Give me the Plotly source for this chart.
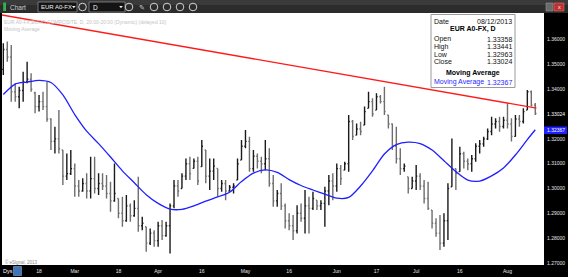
import plotly.graph_objects as go
import pandas as pd

# ---------------- data ----------------
dates = [d.strftime("%Y-%m-%d") for d in pd.bdate_range("2013-02-05", "2013-08-12")]

opens = [1.3480, 1.3560, 1.3530, 1.3390, 1.3370, 1.3395, 1.3430, 1.3440, 1.3385, 1.3330,
         1.3350, 1.3330, 1.3280, 1.3190, 1.3200, 1.3155, 1.3050, 1.3060, 1.3080, 1.3010,
         1.2990, 1.3020, 1.2990, 1.3040, 1.3000, 1.3020, 1.3010, 1.2980, 1.2950, 1.2960,
         1.2900, 1.2870, 1.2930, 1.2890, 1.2920, 1.2850, 1.2846, 1.2780, 1.2820, 1.2790,
         1.2850, 1.2810, 1.2850, 1.2930, 1.3010, 1.3000, 1.3050, 1.3100, 1.3081, 1.3110,
         1.3088, 1.3155, 1.3050, 1.3070, 1.3081, 1.3000, 1.3020, 1.2990, 1.3005, 1.3034,
         1.3115, 1.3170, 1.3190, 1.3080, 1.3130, 1.3110, 1.3100, 1.3120, 1.3020, 1.2950,
         1.2980, 1.2930, 1.2870, 1.2850, 1.2830, 1.2900, 1.2880, 1.2930, 1.2920, 1.2953,
         1.2930, 1.2940, 1.2990, 1.3030, 1.3010, 1.3080, 1.3074, 1.3100, 1.3270, 1.3215,
         1.3240, 1.3256, 1.3323, 1.3350, 1.3316, 1.3370, 1.3350, 1.3296, 1.3260, 1.3170,
         1.3120, 1.3080, 1.3047, 1.3000, 1.3030, 1.3050, 1.3010, 1.2960, 1.2913, 1.2860,
         1.2820, 1.2780, 1.2870, 1.3007, 1.3080, 1.3068, 1.3140, 1.3110, 1.3100, 1.3120,
         1.3170, 1.3180, 1.3200, 1.3230, 1.3260, 1.3270, 1.3250, 1.3275, 1.3260, 1.3210,
         1.3280, 1.3270, 1.3316, 1.3390, 1.33358]
highs = [1.3585, 1.3592, 1.3578, 1.3424, 1.3410, 1.3471, 1.3511, 1.3464, 1.3390, 1.3377,
         1.3390, 1.3430, 1.3283, 1.3249, 1.3316, 1.3155, 1.3141, 1.3155, 1.3101, 1.3034,
         1.3041, 1.3061, 1.3128, 1.3128, 1.3061, 1.3061, 1.3054, 1.3027, 1.3101, 1.2960,
         1.2967, 1.2974, 1.2940, 1.2953, 1.3047, 1.2886, 1.2846, 1.2839, 1.2832, 1.2866,
         1.2873, 1.2866, 1.2940, 1.3034, 1.3034, 1.3061, 1.3121, 1.3128, 1.3121, 1.3128,
         1.3195, 1.3155, 1.3121, 1.3121, 1.3081, 1.3034, 1.3034, 1.3014, 1.3021, 1.3121,
         1.3195, 1.3236, 1.3209, 1.3155, 1.3141, 1.3128, 1.3195, 1.3162, 1.3054, 1.2994,
         1.3021, 1.2940, 1.2900, 1.2893, 1.2933, 1.2940, 1.2994, 1.2967, 1.2987, 1.2953,
         1.2953, 1.3007, 1.3054, 1.3061, 1.3101, 1.3095, 1.3108, 1.3296, 1.3276, 1.3262,
         1.3269, 1.3330, 1.3390, 1.3364, 1.3384, 1.3377, 1.3410, 1.3296, 1.3262, 1.3249,
         1.3162, 1.3101, 1.3047, 1.3047, 1.3095, 1.3061, 1.3034, 1.3027, 1.2913, 1.2880,
         1.2893, 1.2900, 1.3021, 1.3202, 1.3081, 1.3168, 1.3148, 1.3121, 1.3135, 1.3182,
         1.3195, 1.3209, 1.3242, 1.3289, 1.3283, 1.3289, 1.3289, 1.3343, 1.3283, 1.3296,
         1.3296, 1.3323, 1.3397, 1.3395, 1.33441]
lows = [1.3457, 1.3511, 1.3350, 1.3350, 1.3323, 1.3350, 1.3424, 1.3390, 1.3303, 1.3310,
        1.3316, 1.3269, 1.3155, 1.3141, 1.3141, 1.3014, 1.3034, 1.3054, 1.2967, 1.2967,
        1.2987, 1.2960, 1.2960, 1.2980, 1.2974, 1.2994, 1.2960, 1.2906, 1.2947, 1.2880,
        1.2846, 1.2866, 1.2866, 1.2886, 1.2826, 1.2832, 1.2745, 1.2772, 1.2765, 1.2765,
        1.2792, 1.2806, 1.2738, 1.2920, 1.2967, 1.3000, 1.3034, 1.3034, 1.3081, 1.3014,
        1.3088, 1.3021, 1.2994, 1.3034, 1.2967, 1.2987, 1.2953, 1.2987, 1.2980, 1.3034,
        1.3115, 1.3162, 1.3068, 1.3068, 1.3081, 1.3061, 1.3074, 1.3007, 1.2926, 1.2926,
        1.2913, 1.2839, 1.2832, 1.2792, 1.2819, 1.2866, 1.2819, 1.2819, 1.2913, 1.2913,
        1.2913, 1.2846, 1.2933, 1.2953, 1.2987, 1.3014, 1.3074, 1.3068, 1.3195, 1.3215,
        1.3215, 1.3256, 1.3323, 1.3289, 1.3316, 1.3343, 1.3296, 1.3242, 1.3155, 1.3101,
        1.3054, 1.3068, 1.2980, 1.3000, 1.2994, 1.2994, 1.2940, 1.2913, 1.2839, 1.2806,
        1.2752, 1.2765, 1.2792, 1.3007, 1.2994, 1.3068, 1.3081, 1.3074, 1.3068, 1.3108,
        1.3141, 1.3168, 1.3195, 1.3215, 1.3242, 1.3229, 1.3242, 1.3242, 1.3189, 1.3209,
        1.3249, 1.3262, 1.3316, 1.3330, 1.32963]
closes = [1.3560, 1.3530, 1.3390, 1.3370, 1.3395, 1.3430, 1.3440, 1.3400, 1.3330, 1.3350,
          1.3330, 1.3280, 1.3190, 1.3200, 1.3160, 1.3050, 1.3060, 1.3080, 1.3010, 1.2990,
          1.3020, 1.2990, 1.3040, 1.3000, 1.3020, 1.3010, 1.2980, 1.2950, 1.2980, 1.2900,
          1.2870, 1.2930, 1.2890, 1.2920, 1.2850, 1.2860, 1.2780, 1.2820, 1.2790, 1.2850,
          1.2810, 1.2850, 1.2930, 1.3010, 1.2990, 1.3050, 1.3100, 1.3060, 1.3110, 1.3030,
          1.3170, 1.3050, 1.3070, 1.3090, 1.3000, 1.3020, 1.2990, 1.3005, 1.3010, 1.3100,
          1.3170, 1.3190, 1.3080, 1.3130, 1.3110, 1.3100, 1.3120, 1.3020, 1.2950, 1.2980,
          1.2930, 1.2870, 1.2850, 1.2830, 1.2900, 1.2880, 1.2930, 1.2920, 1.2960, 1.2930,
          1.2940, 1.2990, 1.3030, 1.3010, 1.3080, 1.3040, 1.3100, 1.3270, 1.3210, 1.3240,
          1.3230, 1.3310, 1.3350, 1.3300, 1.3370, 1.3350, 1.3310, 1.3260, 1.3170, 1.3120,
          1.3080, 1.3090, 1.3000, 1.3030, 1.3050, 1.3010, 1.2960, 1.2920, 1.2860, 1.2820,
          1.2780, 1.2870, 1.3000, 1.3080, 1.3060, 1.3140, 1.3110, 1.3100, 1.3120, 1.3170,
          1.3180, 1.3200, 1.3230, 1.3260, 1.3270, 1.3250, 1.3275, 1.3260, 1.3210, 1.3280,
          1.3270, 1.3310, 1.3390, 1.3336, 1.33024]

# moving average read at selected bars (bar number, value)
ma_bar = [0, 3, 6, 9, 12, 15, 18, 21, 24, 27, 30, 33, 36, 39, 42, 45, 48, 51, 54, 57,
          60, 63, 66, 69, 72, 75, 78, 81, 84, 87, 90, 93, 96, 99, 102, 105, 108, 111, 114,
          117, 120, 123, 126, 129, 132, 134]
ma_val = [1.3379, 1.3421, 1.3429, 1.3436, 1.3427, 1.3377, 1.3298, 1.3231, 1.3181, 1.3127,
          1.3071, 1.3023, 1.2975, 1.2940, 1.2917, 1.2916, 1.2930, 1.2949, 1.2966, 1.2985,
          1.3028, 1.3062, 1.3075, 1.3065, 1.3036, 1.3012, 1.2994, 1.2977, 1.2961, 1.2964,
          1.3010, 1.3071, 1.3139, 1.3177, 1.3187, 1.3181, 1.3155, 1.3112, 1.3068, 1.3034,
          1.3030, 1.3051, 1.3083, 1.3135, 1.3197, 1.32367]

# red trend line end points (bar number, price)
trend_bar = [-0.6, 134.3]
trend_val = [1.3700, 1.3324]

tick_dates = ["2013-02-18", "2013-03-01", "2013-03-18", "2013-04-01", "2013-04-16", "2013-05-01",
              "2013-05-16", "2013-06-03", "2013-06-17", "2013-07-01", "2013-07-16", "2013-08-01"]
tick_text = ["18", "Mar", "18", "Apr", "16", "May", "16", "Jun", "17", "Jul", "16", "Aug"]
y_ticks = [1.27, 1.28, 1.29, 1.30, 1.31, 1.32, 1.34, 1.35, 1.36]

info_rows = [("Open", "1.33358"), ("High", "1.33441"), ("Low", "1.32963"), ("Close", "1.33024")]
ma_last = "1.32367"
close_last = "1.33024"

# ---------------- layout geometry (pixels) ----------------
W, H = 568, 277
L, R, T, B = 2, 24, 13, 12
PW, PH = W - L - R, H - T - B


def px(x):
    return (x - L) / PW


def py(y):
    return (H - B - y) / PH


FONT = "Liberation Sans, Arial, sans-serif"

xpos = list(range(len(dates)))

fig = go.Figure()
fig.add_trace(go.Ohlc(
    x=xpos, open=opens, high=highs, low=lows, close=closes,
    increasing=dict(line=dict(color="#1a1a1a", width=1.4)),
    decreasing=dict(line=dict(color="#6e6e6e", width=1.4)),
    tickwidth=0.3, showlegend=False, hoverinfo="skip"))
fig.add_trace(go.Scatter(x=trend_bar, y=trend_val, mode="lines",
                         line=dict(color="#ff1a1a", width=1.4), showlegend=False, hoverinfo="skip"))
fig.add_trace(go.Scatter(x=ma_bar, y=ma_val, mode="lines",
                         line=dict(color="#1f1fff", width=1.3, shape="spline", smoothing=0.8),
                         showlegend=False, hoverinfo="skip"))

shapes = []
ann = []


def rect(x0, y0, x1, y1, fill, line=None, lw=0, layer="above"):
    shapes.append(dict(type="rect", xref="paper", yref="paper",
                       x0=px(x0), x1=px(x1), y0=py(y1), y1=py(y0),
                       fillcolor=fill, line=dict(color=line or fill, width=lw), layer=layer))


def text(x, y, s, size=5, color="#dddddd", xa="left", bold=False, bg=None):
    ann.append(dict(xref="paper", yref="paper", x=px(x), y=py(y), text=("<b>%s</b>" % s) if bold else s,
                    showarrow=False, xanchor=xa, yanchor="middle",
                    font=dict(family=FONT, size=size, color=color),
                    bgcolor=bg, borderpad=0))


def circle(cx, cy, r, color="#cfcfcf"):
    shapes.append(dict(type="circle", xref="paper", yref="paper",
                       x0=px(cx - r), x1=px(cx + r), y0=py(cy + r), y1=py(cy - r),
                       line=dict(color=color, width=1), fillcolor="rgba(0,0,0,0)", layer="above"))


def tri(cx, cy, color="#f0f0f0"):
    shapes.append(dict(type="path", xref="paper", yref="paper",
                       path="M %f,%f L %f,%f L %f,%f Z" % (px(cx - 1.8), py(cy - 1), px(cx + 1.8), py(cy - 1),
                                                          px(cx), py(cy + 1.2)),
                       fillcolor=color, line=dict(width=0), layer="above"))


# header bar
rect(0, 0, 568, 13, "#2c2c2c")
rect(0, 0, 568, 5, "#3a3a3a")
rect(3.2, 2.5, 6, 11, "#2fb34a")
text(9, 7, "Chart", 6.5, "#cfcfcf")
rect(38, 2, 77, 12, "#141414", "#8a8a8a", 0.8)
text(39.5, 7.2, "EUR A0-FX", 6, "#f0f0f0")
tri(73.8, 7)
circle(82.5, 7, 3.8)
rect(89, 2, 125, 12, "#141414", "#8a8a8a", 0.8)
text(92, 7.2, "D", 6.5, "#f0f0f0")
tri(121, 7)
circle(129, 7, 3.8)
for cx in (154, 167, 180, 193):
    circle(cx, 7, 3.8)
text(142, 7, "✎", 7, "#cfcfcf", "center")
rect(546, 3, 553, 11, "#6a6a6a", "#999999", 0.6)
rect(554, 3, 564, 11, "#c03030", "#e07070", 0.6)
text(559, 7, "x", 5.5, "#ffffff", "center")

# top-left info
text(3, 21.5, "EUR A0-FX,EURO COMPOSITE, D, 20:00-20:00 (Dynamic) (delayed 10)", 5, "#c4c4c4")
text(3, 28.5, "Moving Average", 5, "#c4c4c4")

# data window
rect(431, 14.5, 515, 87.5, "#ffffff", "#9a9a9a", 1)
text(433, 21, "Date", 7, "#111111")
text(513, 21, "08/12/2013", 7, "#111111", "right")
text(473, 29.5, "EUR A0-FX, D", 7, "#000000", "center", bold=True)
for k, (lab, val) in enumerate(info_rows):
    yy = 39.5 + k * 7.5
    text(433, yy, lab, 7, "#111111")
    text(513, yy, val, 7, "#111111", "right")
text(473, 73, "Moving Average", 7, "#000000", "center", bold=True)
text(433, 82, "Moving Average", 7, "#1f1fff")
text(513, 82, ma_last, 7, "#1f1fff", "right")

# copyright
text(4, 261.5, "© eSignal, 2013", 4.5, "#8a8a8a")

# bottom bar items
text(2, 271, "Dys", 5.5, "#ffffff")
rect(13.5, 266.5, 21.5, 275.5, "#3f74b5", "#7fa8d8", 0.6)

# right axis value markers
text(546, 113.5, close_last, 5, "#ffffff", bg="#000000")
rect(544, 126.5, 567, 134, "#1f1fff")
text(546, 130.2, ma_last, 5, "#ffffff")

fig.update_layout(
    width=W, height=H, margin=dict(l=L, r=R, t=T, b=B, pad=0),
    paper_bgcolor="#000000", plot_bgcolor="#ffffff",
    font=dict(family=FONT),
    shapes=shapes, annotations=ann,
    xaxis=dict(range=[-0.33, 136.2], tickvals=[dates.index(d) for d in tick_dates], ticktext=tick_text,
               tickfont=dict(size=5, color="#e6e6e6"), showgrid=False, zeroline=False, showline=False,
               ticks="", rangeslider=dict(visible=False), ticklabelstandoff=2, fixedrange=True),
    yaxis=dict(side="right", range=[1.26917, 1.37073], tickvals=y_ticks, tickformat=".5f",
               tickfont=dict(size=5, color="#e6e6e6"), showgrid=False, zeroline=False, showline=False,
               ticks="", ticklabelstandoff=2, fixedrange=True),
)

fig.write_html("out.html")
